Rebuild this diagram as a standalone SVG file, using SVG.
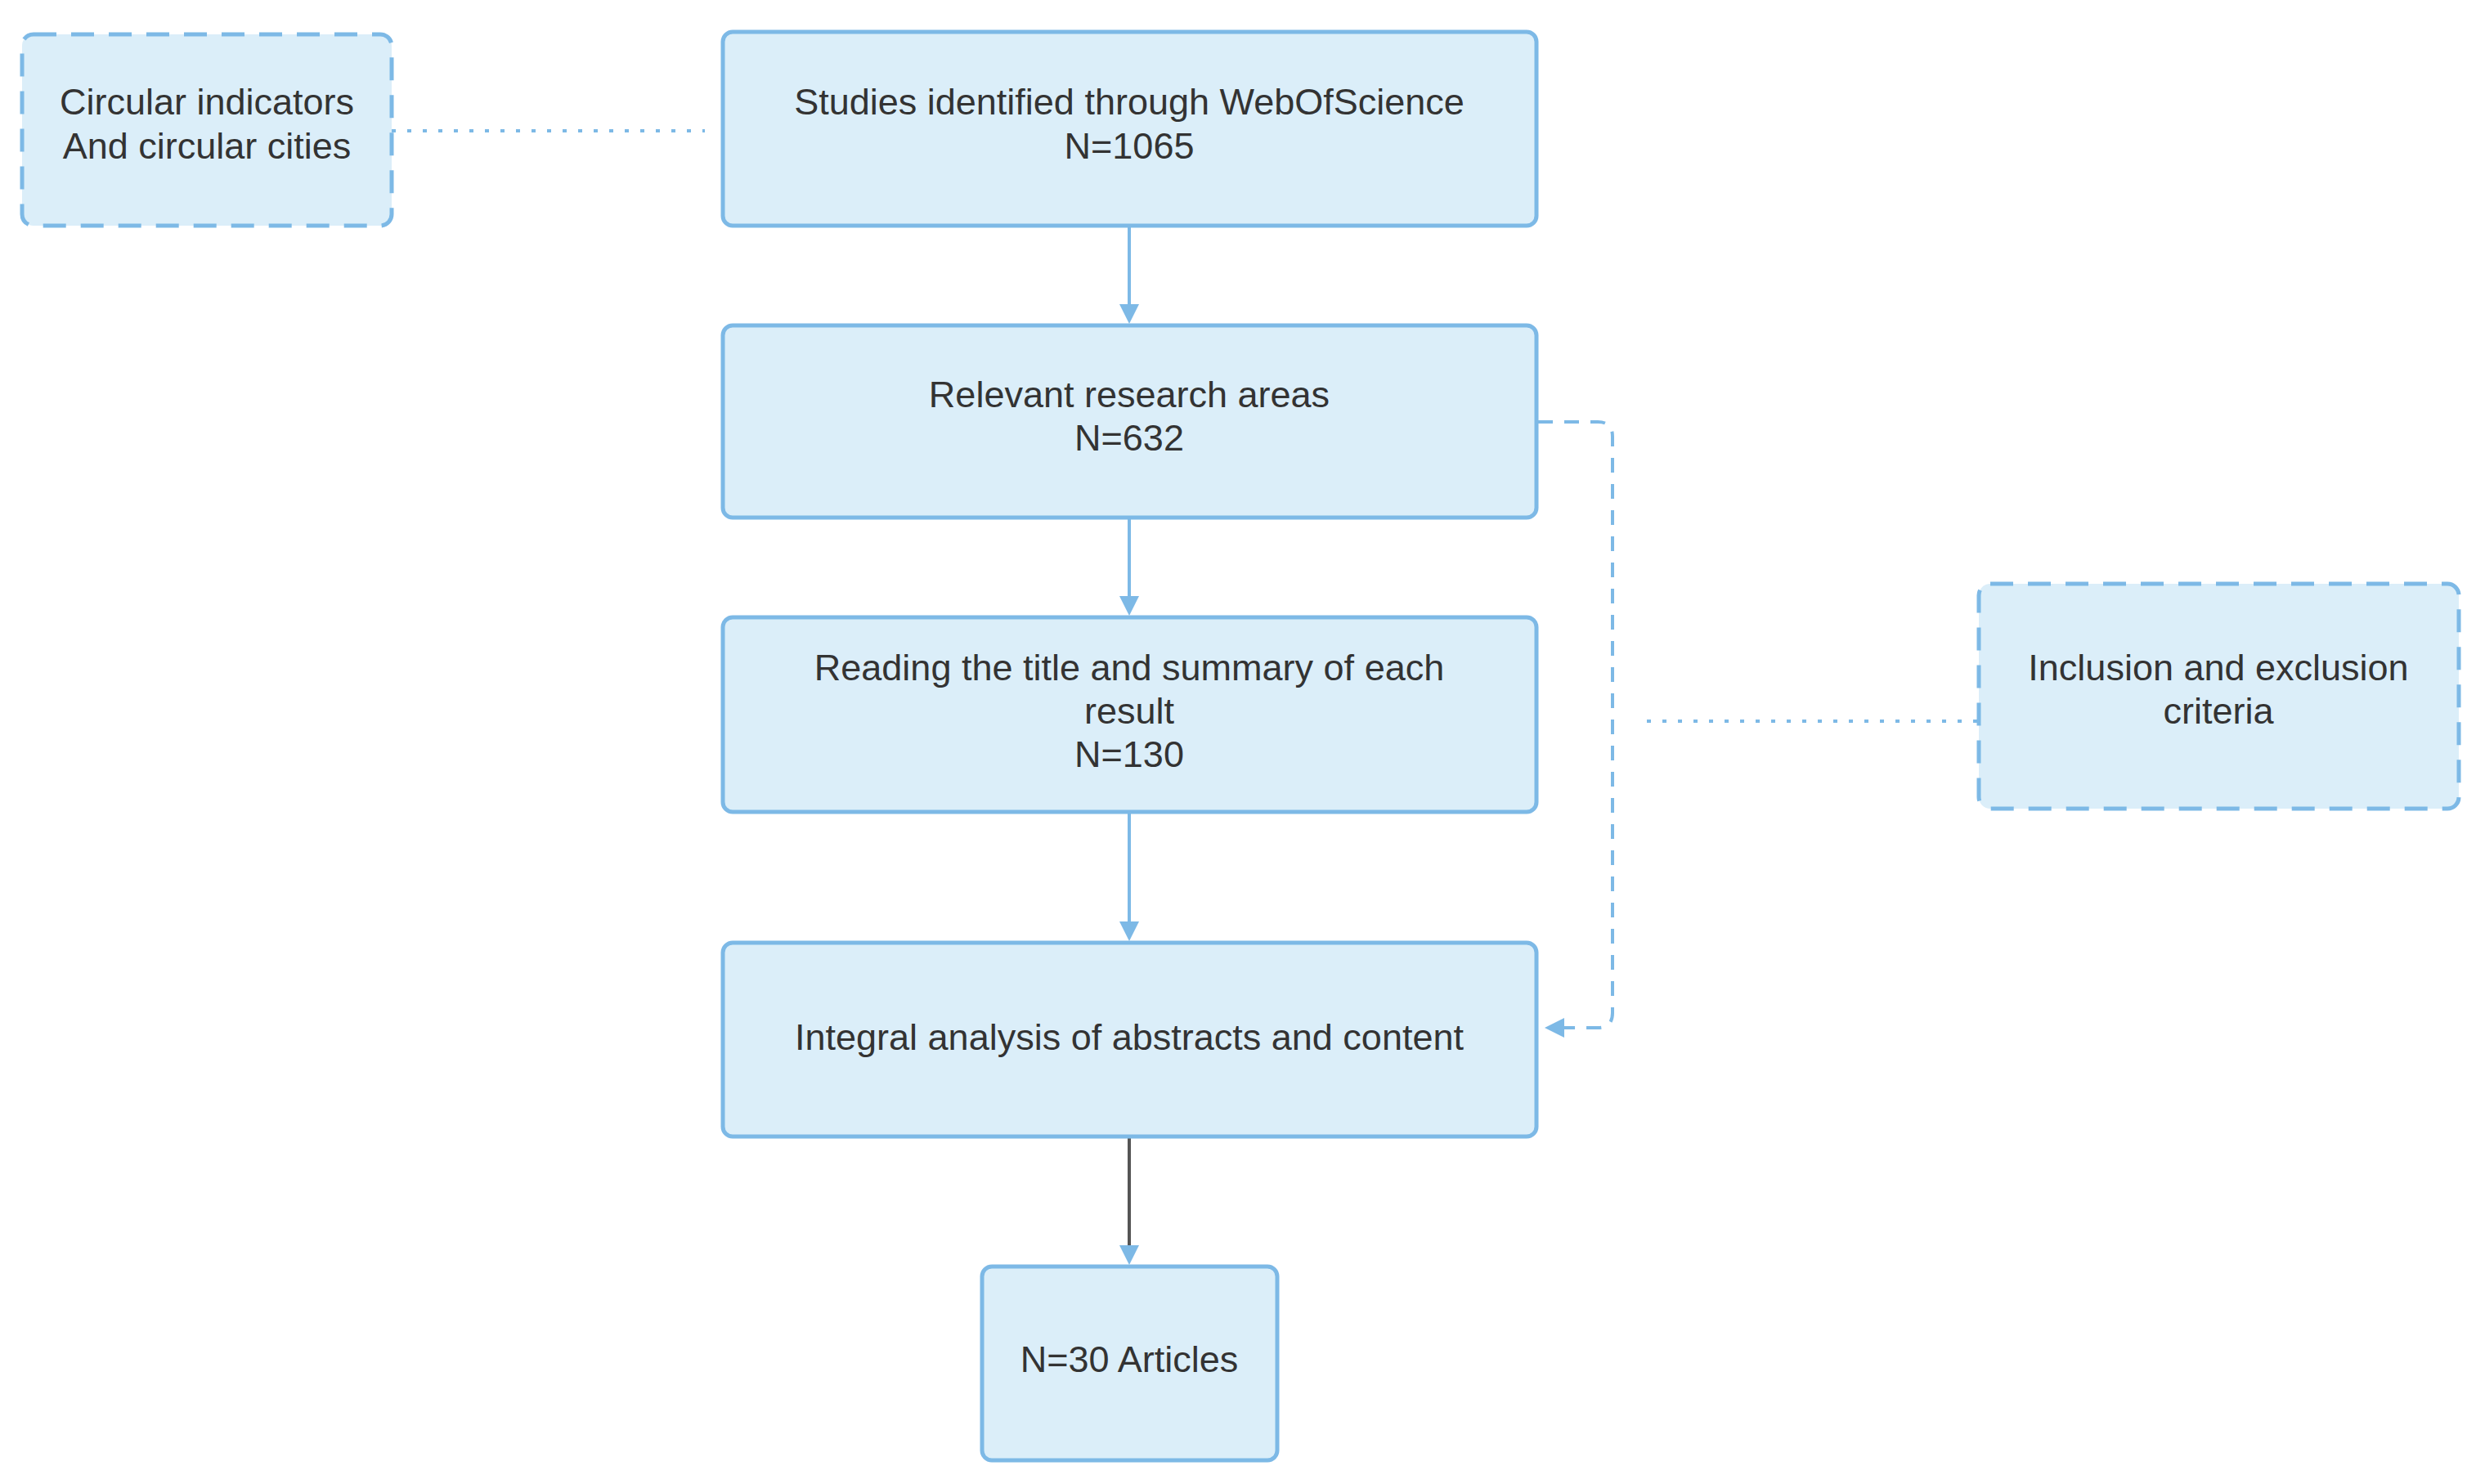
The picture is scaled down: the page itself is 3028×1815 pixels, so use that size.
<svg xmlns="http://www.w3.org/2000/svg" width="3028" height="1815" viewBox="0 0 3028 1815">
<style>
.b{fill:#dbeef9;stroke:#7db9e6;stroke-width:5}
.d{stroke-dasharray:28 18}
text{font-family:"Liberation Sans",Arial,sans-serif;font-size:45px;fill:#333;text-anchor:middle;dominant-baseline:central}
.c{fill:none;stroke:#7db9e6;stroke-width:4}
</style>
<defs>
<marker id="a" markerWidth="10" markerHeight="10" refX="9" refY="5" orient="auto" markerUnits="userSpaceOnUse" viewBox="0 0 10 10"><path d="M0,0L10,5L0,10z" fill="#7db9e6"/></marker>
<marker id="g" markerWidth="10" markerHeight="10" refX="9" refY="5" orient="auto" viewBox="0 0 10 10" markerUnits="strokeWidth"><path d="M0,0L10,5L0,10z" fill="#555"/></marker>
<marker id="a2" markerWidth="6" markerHeight="6" refX="5" refY="3" orient="auto" viewBox="0 0 6 6" markerUnits="strokeWidth"><path d="M0,0L6,3L0,6z" fill="#7db9e6"/></marker>
</defs>
<rect width="3028" height="1815" fill="#fff"/>
<g id="connectors">
<path class="c" d="M479,160H862" stroke-dasharray="5 14"/>
<path class="c" d="M1381,278V392" marker-end="url(#a2)"/>
<path class="c" d="M1381,635V749" marker-end="url(#a2)"/>
<path class="c" d="M1381,995V1147" marker-end="url(#a2)"/>
<path d="M1381,1392V1543" fill="none" stroke="#555" stroke-width="4" marker-end="url(#a2)" style="stroke:#555"/>
<path class="c" d="M1881,516H1954Q1972,516 1972,534V1239Q1972,1257 1954,1257H1893" stroke-dasharray="18 14" marker-end="url(#a2)"/>
<path class="c" d="M2014,882H2418" stroke-dasharray="5 14"/>
</g>
<g id="n0"><rect class="b d" x="27" y="42" width="452" height="234" rx="14"/><text x="253" y="124">Circular indicators</text><text x="253" y="178">And circular cities</text></g>
<g id="n1"><rect class="b" x="884" y="39" width="995" height="237" rx="12"/><text x="1381" y="124">Studies identified through WebOfScience</text><text x="1381" y="178">N=1065</text></g>
<g id="n2"><rect class="b" x="884" y="398" width="995" height="235" rx="12"/><text x="1381" y="482">Relevant research areas</text><text x="1381" y="535">N=632</text></g>
<g id="n3"><rect class="b" x="884" y="755" width="995" height="238" rx="12"/><text x="1381" y="816">Reading the title and summary of each</text><text x="1381" y="869">result</text><text x="1381" y="922">N=130</text></g>
<g id="n4"><rect class="b" x="884" y="1153" width="995" height="237" rx="12"/><text x="1381" y="1268">Integral analysis of abstracts and content</text></g>
<g id="n5"><rect class="b" x="1201" y="1549" width="361" height="237" rx="12"/><text x="1381" y="1662">N=30 Articles</text></g>
<g id="n6"><rect class="b d" x="2420" y="714" width="587" height="275" rx="14"/><text x="2713" y="816">Inclusion and exclusion</text><text x="2713" y="869">criteria</text></g>
</svg>
